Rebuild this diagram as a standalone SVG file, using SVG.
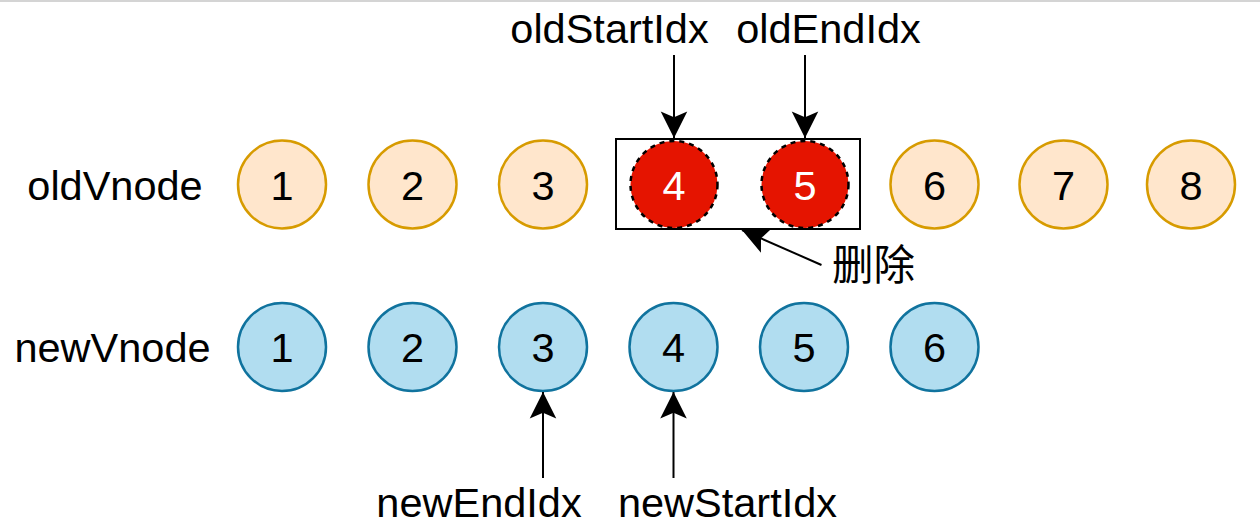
<svg xmlns="http://www.w3.org/2000/svg" width="1260" height="532" viewBox="0 0 1260 532">
<style>
text{font-family:"Liberation Sans",Arial,"Noto Sans CJK SC",sans-serif;font-size:41.5px;fill:#000;text-anchor:middle}
.old{fill:#ffe6cc;stroke:#d79b00;stroke-width:2.5}
.new{fill:#b1ddf0;stroke:#10739e;stroke-width:2.5}
.del{fill:#e51400;stroke:#000;stroke-width:2.5;stroke-dasharray:5 5}
.w{fill:#fff}
.edge{stroke:#000;stroke-width:2;fill:none;marker-end:url(#arr)}
</style>
<defs>
<marker id="arr" markerUnits="userSpaceOnUse" markerWidth="30" markerHeight="30" viewBox="-24 -12 26 24" refX="0" refY="0" orient="auto">
<path d="M0,0 L-23,-11.5 L-18,0 L-23,11.5 Z" fill="#000"/>
</marker>
</defs>
<rect x="0" y="0" width="1260" height="532" fill="#fff"/>
<line x1="0" y1="1" x2="1260" y2="1" stroke="#d4d4d4" stroke-width="2"/>
<g id="label-old"><text x="115" y="200">oldVnode</text></g>
<g id="label-new"><text x="112.5" y="362">newVnode</text></g>
<g id="del-box"><rect x="616" y="139" width="244" height="90" fill="#fff" stroke="#000" stroke-width="2"/></g>
<g id="old1"><circle class="old" cx="282" cy="184.5" r="44"/><text x="282" y="200">1</text></g>
<g id="old2"><circle class="old" cx="412.5" cy="184.5" r="44"/><text x="412.5" y="200">2</text></g>
<g id="old3"><circle class="old" cx="543" cy="184.5" r="44"/><text x="543" y="200">3</text></g>
<g id="old4"><circle class="del" cx="674" cy="184.5" r="43.5"/><text class="w" x="674" y="200">4</text></g>
<g id="old5"><circle class="del" cx="805" cy="184.5" r="43.5"/><text class="w" x="805" y="200">5</text></g>
<g id="old6"><circle class="old" cx="934.5" cy="184.5" r="44"/><text x="934.5" y="200">6</text></g>
<g id="old7"><circle class="old" cx="1063.5" cy="184.5" r="44"/><text x="1063.5" y="200">7</text></g>
<g id="old8"><circle class="old" cx="1191" cy="184.5" r="44"/><text x="1191" y="200">8</text></g>
<g id="new1"><circle class="new" cx="282" cy="347" r="44"/><text x="282" y="362">1</text></g>
<g id="new2"><circle class="new" cx="412.5" cy="347" r="44"/><text x="412.5" y="362">2</text></g>
<g id="new3"><circle class="new" cx="543" cy="347" r="44"/><text x="543" y="362">3</text></g>
<g id="new4"><circle class="new" cx="673.5" cy="347" r="44"/><text x="673.5" y="362">4</text></g>
<g id="new5"><circle class="new" cx="804" cy="347" r="44"/><text x="804" y="362">5</text></g>
<g id="new6"><circle class="new" cx="934.5" cy="347" r="44"/><text x="934.5" y="362">6</text></g>
<g id="lbl-oldStart"><text x="609.5" y="43">oldStartIdx</text></g>
<g id="lbl-oldEnd"><text x="828.5" y="43">oldEndIdx</text></g>
<g id="lbl-del"><text x="873.5" y="280">删除</text></g>
<g id="lbl-newEnd"><text x="479" y="517">newEndIdx</text></g>
<g id="lbl-newStart"><text x="727.5" y="517">newStartIdx</text></g>
<g id="connectors">
<line class="edge" x1="674" y1="55" x2="674" y2="138"/>
<line class="edge" x1="805" y1="55" x2="805" y2="138"/>
<line class="edge" x1="821.5" y1="265" x2="742" y2="230"/>
<line class="edge" x1="543" y1="478" x2="543" y2="392"/>
<line class="edge" x1="673.5" y1="478" x2="673.5" y2="392"/>
</g>
</svg>
